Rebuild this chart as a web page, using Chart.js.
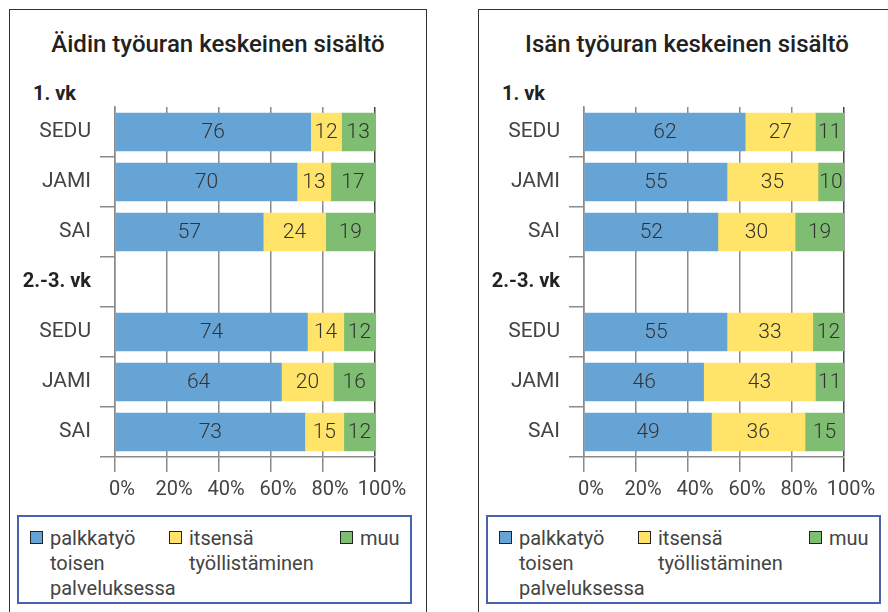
<!DOCTYPE html>
<html lang="fi">
<head>
<meta charset="utf-8">
<script src="https://cdn.jsdelivr.net/npm/chart.js@4.4.1/dist/chart.umd.min.js"></script>
<style>
  body { margin: 0; width: 888px; height: 612px; overflow: hidden; background: #fff; font-family: Roboto, sans-serif; position: relative; }
  .frame { position: absolute; top: 9px; width: 418px; height: 640px; border: 1px solid #333; box-sizing: border-box; }
  .title { position: absolute; top: 30px; width: 418px; text-align: center; font-size: 24px; font-weight: 500; line-height: 28px; color: #222; }
  .group { position: absolute; top: 82px; font-size: 20px; font-weight: 700; line-height: 22px; color: #222; }
  canvas { position: absolute; top: 0; }
  .legend { position: absolute; top: 515px; width: 395px; height: 89px; border: 2px solid #4a62ad; box-sizing: border-box; }
  .item { position: absolute; top: 9px; font-size: 20px; line-height: 25px; color: #444; }
  .swatch { position: absolute; left: -20px; top: 5px; width: 13px; height: 13px; border: 1px solid #222; box-sizing: border-box; }
</style>
</head>
<body>
<div class="frame" style="left:9px"></div>
<div class="frame" style="left:478px"></div>
<div class="title" style="left:9px" id="title-left"></div>
<div class="title" style="left:478px" id="title-right"></div>
<div class="group" style="left:33px">1. vk</div>
<div class="group" style="left:502px">1. vk</div>
<canvas id="chart-left" width="440" height="512" style="left:0px"></canvas>
<canvas id="chart-right" width="440" height="512" style="left:469px"></canvas>
<div class="legend" id="legend-left" style="left:17px"></div>
<div class="legend" id="legend-right" style="left:486px"></div>

<script>
const categories = ['SEDU', 'JAMI', 'SAI', '2.-3. vk', 'SEDU', 'JAMI', 'SAI'];
const groupLabel = '2.-3. vk';
const seriesNames = [['palkkatyö', 'toisen', 'palveluksessa'], ['itsensä', 'työllistäminen'], ['muu']];
const seriesColors = ['#67a4d6', '#ffe469', '#7ebd72'];
const tickValues = [0, 20, 40, 60, 80, 100];

// Äidin työuran keskeinen sisältö (null = group header row)
const motherPaid = [76, 70, 57, null, 74, 64, 73];
const motherSelf = [12, 13, 24, null, 14, 20, 15];
const motherOther = [13, 17, 19, null, 12, 16, 12];

// Isän työuran keskeinen sisältö
const fatherPaid = [62, 55, 52, null, 55, 46, 49];
const fatherSelf = [27, 35, 30, null, 33, 43, 36];
const fatherOther = [11, 10, 19, null, 12, 11, 15];

const labelPlugin = {
  id: 'barLabels',
  afterDatasetsDraw(chart) {
    const ctx = chart.ctx;
    ctx.save();
    ctx.font = '300 21px Roboto';
    ctx.fillStyle = '#333';
    ctx.textAlign = 'center';
    ctx.textBaseline = 'middle';
    chart.data.datasets.forEach((ds, i) => {
      chart.getDatasetMeta(i).data.forEach((bar, j) => {
        const raw = ds.rawValues[j];
        if (raw == null) return;
        ctx.fillText(String(raw), (bar.x + bar.base) / 2, bar.y + 1);
      });
    });
    ctx.restore();
  }
};

function buildChart(canvasId, series) {
  // 100 % stacked: each row shown as its share of the row total
  const totals = categories.map((c, j) => series.reduce((s, arr) => s + (arr[j] || 0), 0));
  const datasets = series.map((arr, i) => ({
    label: seriesNames[i].join(' '),
    data: arr.map((v, j) => v == null ? null : v / totals[j] * 100),
    rawValues: arr,
    backgroundColor: seriesColors[i],
    borderWidth: 0,
    barThickness: 38
  }));

  return new Chart(document.getElementById(canvasId), {
    type: 'bar',
    data: { labels: categories, datasets },
    options: {
      indexAxis: 'y',
      responsive: false,
      animation: false,
      layout: { padding: { top: 107, right: 65, left: 0, bottom: 0 } },
      plugins: { legend: { display: false }, tooltip: { enabled: false } },
      scales: {
        x: {
          stacked: true,
          min: 0,
          max: 100,
          afterBuildTicks: scale => { scale.ticks = tickValues.map(v => ({ value: v })); },
          afterFit: scale => { scale.height = 55; },
          grid: {
            color: c => c.tick && c.tick.value === 100 ? '#444' : '#8a8a8a',
            lineWidth: 1.5,
            tickLength: 15
          },
          border: { color: '#8a8a8a', width: 1.5 },
          ticks: {
            callback: v => v + '%',
            font: { family: 'Roboto', size: 20 },
            color: '#444',
            padding: 6,
            labelOffset: 7,
            maxRotation: 0
          }
        },
        y: {
          stacked: true,
          afterFit: scale => { scale.width = 115; },
          grid: {
            drawOnChartArea: false,
            tickLength: 15,
            lineWidth: 1.5,
            color: c => c.index === 0 ? 'rgba(0,0,0,0)' : '#8a8a8a'
          },
          border: { color: '#8a8a8a', width: 1.5 },
          ticks: {
            padding: 9,
            font: c => c.tick && c.tick.label === groupLabel
              ? { family: 'Roboto', size: 20, weight: 'bold' }
              : { family: 'Roboto', size: 21 },
            color: c => c.tick && c.tick.label === groupLabel ? '#222' : '#444'
          }
        }
      }
    },
    plugins: [labelPlugin]
  });
}

function buildLegend(boxId, chart) {
  const box = document.getElementById(boxId);
  const offsets = [31, 170, 341];
  chart.data.datasets.forEach((ds, i) => {
    const item = document.createElement('div');
    item.className = 'item';
    item.style.left = offsets[i] + 'px';
    item.innerHTML = '<span class="swatch" style="background:' + ds.backgroundColor + '"></span>' +
      seriesNames[i].join('<br>');
    box.appendChild(item);
  });
}

document.addEventListener('DOMContentLoaded', () => {
  document.getElementById('title-left').textContent = 'Äidin työuran keskeinen sisältö';
  document.getElementById('title-right').textContent = 'Isän työuran keskeinen sisältö';

  const left = buildChart('chart-left', [motherPaid, motherSelf, motherOther]);
  const right = buildChart('chart-right', [fatherPaid, fatherSelf, fatherOther]);
  buildLegend('legend-left', left);
  buildLegend('legend-right', right);
});
</script>
</body>
</html>
